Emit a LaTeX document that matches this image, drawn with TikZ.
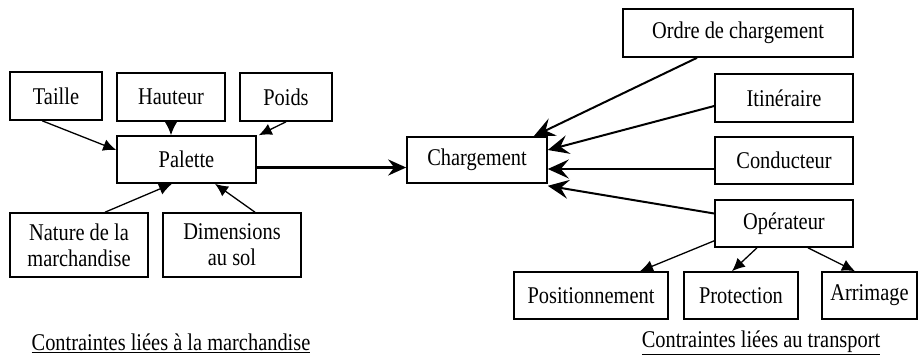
\documentclass[tikz,border=0pt]{standalone}
\usepackage{fontspec}
\setmainfont{Liberation Serif}[FakeStretch=0.85]
\usetikzlibrary{arrows.meta,calc}
\begin{document}
\begin{tikzpicture}[x=1pt,y=-1pt,
  box/.style={draw=black,line width=1.6pt,rectangle,inner sep=0pt,align=center,
    font=\fontsize{24}{26}\selectfont},
  feed/.style={line width=1.3pt,-{Latex[length=13pt,width=12pt]}},
  load/.style={line width=2pt,-{Stealth[length=21pt,width=19pt,inset=8pt]}},
  caption/.style={font=\fontsize{24}{26}\selectfont,inner sep=0pt}]
\useasboundingbox[fill=white] (0,0) rectangle (919,360);

% goods-side boxes
\node[box,minimum width=92,minimum height=48] (taille) at (56,96) {Taille};
\node[box,minimum width=108,minimum height=48] (hauteur) at (171,97) {Hauteur};
\node[box,minimum width=92,minimum height=48] (poids) at (286,97) {Poids};
\node[box,minimum width=139,minimum height=47] (palette) at (186.5,159.5) {Palette};
\node[box,minimum width=138,minimum height=64] (nature) at (79,245) {Nature de la\\marchandise};
\node[box,minimum width=138,minimum height=64] (dims) at (232,245) {Dimensions\\au sol};

% transport-side boxes
\node[box,minimum width=140,minimum height=46] (charg) at (477,160) {Chargement};
\node[box,minimum width=230,minimum height=48] (ordre) at (738,33) {Ordre de chargement};
\node[box,minimum width=138,minimum height=48] (itin) at (784,98) {Itinéraire};
\node[box,minimum width=138,minimum height=47] (cond) at (784,160.5) {Conducteur};
\node[box,minimum width=138,minimum height=47] (oper) at (784,223.5) {Opérateur};
\node[box,minimum width=154,minimum height=47] (posit) at (591,295.5) {Positionnement};
\node[box,minimum width=114,minimum height=47] (protec) at (741,295.5) {Protection};
\node[box,minimum width=95,minimum height=47] (arrim) at (869.5,295.5) {Arrimage};

% captions
\node[caption] (capgoods) at (171,343) {\underline{Contraintes liées à la marchandise}};
\node[caption] (captrans) at (761,343) {\underline{Contraintes liées au transport}};

% inputs to the pallet
\draw[feed] ([xshift=33pt]taille.south west) -- ([yshift=9.5pt]palette.west);
\draw[feed] (hauteur.south) -- (hauteur.south |- palette.north);
\draw[feed] (poids.south) -- ([xshift=2pt]palette.north east);
\draw[feed] ([xshift=26pt]nature.north) -- ([xshift=-14.5pt]palette.south);
\draw[feed] ([xshift=23pt]dims.north) -- ([xshift=28.5pt]palette.south);

% pallet to loading
\draw[line width=2.6pt,-{Stealth[length=18pt,width=16pt,inset=6pt]}]
  ([yshift=-8pt]palette.east) -- ([yshift=-8pt]palette.east -| charg.west);

% transport constraints to loading
\draw[load] ([xshift=-41pt]ordre.south) -- ([xshift=-14pt]charg.north east);
\draw[load] ([yshift=-8pt]itin.west) -- ([yshift=10pt]charg.east);
\draw[load] ([yshift=-8.5pt]cond.west) -- ([yshift=-8.5pt]cond.west -| charg.east);
\draw[load] ([yshift=10pt]oper.west) -- ([yshift=-2pt]charg.south east);

% operator tasks
\draw[feed] ([yshift=7pt]oper.south west) -- ([xshift=49pt]posit.north);
\draw[feed] ([xshift=-27pt]oper.south) -- ([xshift=-9pt]protec.north);
\draw[feed] ([xshift=24pt]oper.south) -- ([xshift=-14.5pt]arrim.north);
\end{tikzpicture}
\end{document}
